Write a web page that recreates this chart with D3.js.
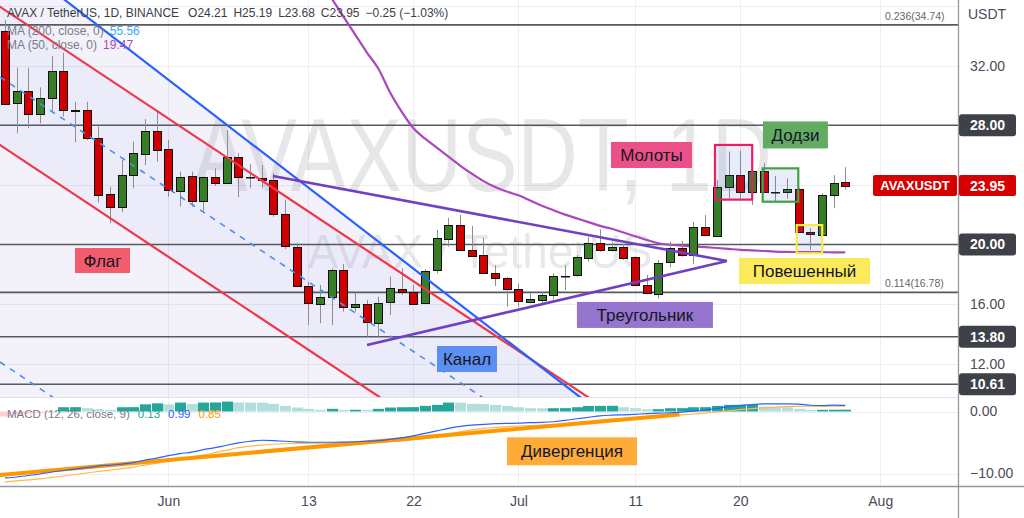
<!DOCTYPE html>
<html><head><meta charset="utf-8">
<script src="https://cdn.jsdelivr.net/npm/d3@7/dist/d3.min.js"></script>
<style>
html,body{margin:0;padding:0;background:#fff;}
svg{display:block;}
text{font-family:"Liberation Sans",Arial,sans-serif;}
</style></head><body>
<svg id="chart" width="1024" height="518"></svg>
<script>
// ---------------- data ----------------
const firstDay = "2021-05-18";
const open = [34.35,29.54,30.32,28.76,29.81,31.65,29.03,29.00,27.17,23.37,22.49,24.66,26.12,27.64,26.39,23.61,24.60,22.94,24.55,24.15,25.89,24.52,24.48,24.33,22.03,19.85,17.21,16.05,16.49,18.29,15.78,15.98,14.77,16.09,17.01,16.83,16.05,18.22,20.40,21.31,19.66,19.27,18.06,17.75,16.99,16.11,16.31,16.63,17.88,17.90,19.14,20.12,19.68,19.85,19.14,17.28,16.72,18.77,19.74,19.29,21.15,20.59,23.88,24.66,23.54,24.93,23.54,23.57,23.74,20.84,20.63,23.32,24.21];
const high = [35.07,31.87,31.87,30.55,32.65,32.87,29.58,29.58,27.91,23.88,25.67,26.90,28.42,29.03,27.01,24.89,24.89,24.55,25.11,27.68,26.12,25.40,25.33,24.78,23.00,20.12,17.50,17.28,18.40,18.69,16.76,16.27,16.49,17.84,18.40,17.28,18.33,20.97,21.78,21.98,21.24,20.45,18.62,17.84,17.39,16.72,16.83,18.06,18.62,19.29,20.52,21.02,20.19,20.03,19.20,17.95,18.96,20.19,20.25,21.51,21.98,24.33,26.23,26.30,26.23,25.45,24.60,24.44,23.80,21.08,23.43,24.66,25.19];
const low = [29.36,27.46,27.80,28.13,28.98,28.58,26.86,27.00,22.83,21.42,22.16,23.77,25.33,25.56,23.21,22.54,22.54,22.20,23.94,24.15,23.17,23.77,23.77,21.86,19.68,17.15,14.59,14.71,14.59,15.49,15.49,13.81,13.81,15.26,16.61,16.00,16.00,18.05,19.86,19.59,19.18,18.01,17.21,15.82,15.82,16.05,15.93,16.31,16.94,17.84,18.84,19.51,19.51,18.96,17.20,16.65,16.38,18.47,19.18,18.69,20.55,20.55,23.10,23.10,22.65,23.50,22.87,23.10,20.80,19.63,20.08,22.43,23.68];
const close = [29.48,30.32,28.76,29.81,31.65,29.03,28.99,27.13,23.37,22.49,24.66,26.12,27.64,26.39,23.61,24.55,22.94,24.55,24.15,25.89,24.55,24.50,24.33,22.03,19.85,17.21,16.05,16.49,18.29,15.78,15.98,14.77,16.09,17.06,16.83,16.05,18.22,20.40,21.31,19.66,19.27,18.06,17.75,16.99,16.16,16.31,16.63,17.88,17.90,19.14,20.12,19.68,19.85,19.14,17.28,16.72,18.77,19.74,19.29,21.15,20.59,23.88,24.66,23.54,24.93,23.54,23.52,23.74,20.86,20.68,23.32,24.10,23.95];
const ma50 = [null,null,null,null,null,null,null,null,null,null,null,null,null,null,null,null,null,null,null,null,null,null,null,null,null,null,null,
  37.6,36.5,35.3,34.1,32.9,31.8,30.2,28.9,27.8,27.1,26.5,25.9,25.3,24.75,24.25,23.85,23.55,23.3,22.95,22.6,22.3,22.0,21.75,21.5,21.25,21.05,20.8,20.55,20.3,20.08,19.98,19.92,19.87,19.82,19.76,19.7,19.64,19.6,19.56,19.52,19.5,19.49,19.48,19.48,19.47,19.47];
const macdLine = [-10.7,-10.56,-10.32,-10.08,-9.76,-9.52,-9.28,-9.04,-8.8,-8.64,-8.48,-8.24,-7.84,-7.52,-7.12,-6.8,-6.56,-6.16,-5.84,-5.44,-5.07,-4.8,-4.64,-4.69,-4.8,-4.91,-4.96,-4.96,-4.96,-4.93,-4.88,-4.8,-4.69,-4.48,-4.24,-3.92,-3.52,-3.12,-2.72,-2.4,-2.19,-2.08,-1.97,-1.92,-1.89,-1.81,-1.76,-1.65,-1.44,-1.17,-0.93,-0.69,-0.59,-0.53,-0.45,-0.35,-0.27,-0.21,-0.11,0.05,0.24,0.51,0.8,0.96,1.12,1.23,1.23,1.23,1.2,1.01,0.96,1.04,0.99];
const signalLine = [-11.36,-11.2,-11.04,-10.88,-10.64,-10.4,-10.16,-9.92,-9.68,-9.44,-9.2,-8.96,-8.64,-8.32,-8.0,-7.68,-7.36,-7.04,-6.64,-6.24,-5.84,-5.6,-5.41,-5.28,-5.2,-5.15,-5.12,-5.1,-5.09,-5.07,-5.06,-5.02,-4.98,-4.88,-4.75,-4.56,-4.32,-4.0,-3.65,-3.28,-2.96,-2.72,-2.56,-2.43,-2.34,-2.26,-2.18,-2.1,-1.98,-1.82,-1.63,-1.44,-1.28,-1.14,-1.01,-0.88,-0.75,-0.64,-0.53,-0.4,-0.26,-0.08,0.11,0.29,0.45,0.59,0.7,0.78,0.83,0.85,0.85,0.85,0.85];
const histogram = [-0.8,-0.55,-0.38,-0.22,-0.06,0.69,0.70,0.53,0.37,0.27,0.69,0.70,1.16,1.32,1.16,1.44,1.23,1.44,1.46,1.6,1.45,1.44,1.42,1.23,0.91,0.64,0.43,0.27,0.43,0.27,0.28,0.27,0.43,0.64,0.69,0.70,0.91,1.07,1.44,1.42,1.23,1.22,1.07,0.91,0.69,0.53,0.52,0.53,0.54,0.69,0.90,0.91,0.92,0.69,0.53,0.37,0.38,0.53,0.54,0.69,0.70,0.91,1.07,1.08,1.09,0.80,0.69,0.68,0.43,0.27,0.28,0.29,0.30];
const priceAxisTicks = [32, 16, 12];
const priceGrid = [36, 32, 28, 24, 20, 16, 12];
const levelLines = [28, 20, 13.80, 10.61];
const fibLevels = [34.74, 16.78];
const fibLabels = ["0.236(34.74)", "0.114(16.78)"];
const macdAxisTicks = [0, -10];
const timeTicks = ["2021-06-01","2021-06-13","2021-06-22","2021-07-01","2021-07-11","2021-07-20","2021-08-01"];
const lastPrice = 23.95;
const headerItems = ["AVAX / TetherUS, 1D, BINANCE","O24.21","H25.19","L23.68","C23.95","\u22120.25 (\u22121.03%)"];
// drawings: [day index, price]
const blueLine = [[5.14,36.41],[49.27,9.76]];
const redUpper = [[-0.43,35.96],[50.99,9.21]];
const redLower = [[-0.43,26.68],[33.85,8.84]];
const dashMid  = [[-0.43,31.24],[42.42,8.95]];
const dashLow  = [[-0.43,12.11],[4.71,9.42]];
const triUpper = [[22.96,24.60],[61.87,18.89]];
const triLower = [[31.02,13.25],[61.87,18.89]];
const divergence = [[-0.43,-10.24],[57.8,-0.48]];
const boxPink   = [[60.84,26.68],[64.03,23.01]];
const boxGreen  = [[64.93,25.11],[67.98,22.87]];
const boxYellow = [[67.84,21.30],[70.03,19.41]];

// ---------------- layout ----------------
const svg = d3.select("#chart");
const paneR = 958, priceB = 397, macdT = 398, macdB = 486;
const parseDay = d3.utcParse("%Y-%m-%d");
const d0 = parseDay(firstDay);
const day = i => new Date(+d0 + i * 864e5);
const n = open.length;
const x = d3.scaleUtc().domain([day(0), day(n - 1)]).range([5, 845.2]);
const xi = i => x(day(i));
const y = d3.scaleLinear().domain([28, 10.61]).range([125.3, 384.3]);
const ym = d3.scaleLinear().domain([0, -10]).range([411.5, 473.5]);

const defs = svg.append("defs");
defs.append("clipPath").attr("id","cp").append("rect").attr("x",0).attr("y",0).attr("width",paneR).attr("height",priceB);
defs.append("clipPath").attr("id","cm").append("rect").attr("x",0).attr("y",macdT).attr("width",paneR).attr("height",macdB-macdT);

svg.append("rect").attr("width",1024).attr("height",518).attr("fill","#fff");

// grid
const grid = svg.append("g");
const tDates = timeTicks.map(parseDay);
grid.selectAll("line.v").data(tDates).join("line")
  .attr("x1",d=>Math.round(x(d))+0.5).attr("x2",d=>Math.round(x(d))+0.5)
  .attr("y1",0).attr("y2",macdB).attr("stroke","#eceef3").attr("stroke-width",1);
grid.selectAll("line.h").data(priceGrid).join("line")
  .attr("x1",0).attr("x2",paneR).attr("y1",d=>Math.round(y(d))+0.5).attr("y2",d=>Math.round(y(d))+0.5)
  .attr("stroke","#eceef3");
grid.selectAll("line.hm").data(macdAxisTicks).join("line")
  .attr("x1",0).attr("x2",paneR).attr("y1",d=>Math.round(ym(d))+0.5).attr("y2",d=>Math.round(ym(d))+0.5)
  .attr("stroke","#eceef3");

// watermark
const wm = svg.append("g").attr("clip-path","url(#cp)");
wm.append("text").attr("x",482).attr("y",191).attr("text-anchor","middle")
  .attr("font-size",104).attr("fill","rgba(110,112,125,0.17)")
  .attr("textLength",580).attr("lengthAdjust","spacingAndGlyphs").text("AVAXUSDT, 1D");
wm.append("text").attr("x",480).attr("y",268).attr("text-anchor","middle")
  .attr("font-size",49).attr("fill","rgba(110,112,125,0.17)")
  .attr("textLength",345).attr("lengthAdjust","spacingAndGlyphs").text("AVAX / TetherUS");

// helpers
const P = d => [xi(d[0]), y(d[1])];
function extend(seg, i0, i1){
  const [a,b] = seg; const k = (b[1]-a[1])/(b[0]-a[0]);
  return [[i0, a[1]+k*(i0-a[0])],[i1, a[1]+k*(i1-a[0])]];
}
const line2 = d3.line().x(d=>xi(d[0])).y(d=>y(d[1]));

const gP = svg.append("g").attr("clip-path","url(#cp)");
// channel fills
const bl = extend(blueLine, -3, 60);
gP.append("path").attr("d", line2([bl[0], bl[1], [-3, bl[1][1]]]) + "Z")
  .attr("fill","#8c82d8").attr("fill-opacity",0.1);
const ru = extend(redUpper, -3, 60), rl = extend(redLower, -3, 60);
gP.append("path").attr("d", line2([ru[0], ru[1], rl[1], rl[0]]) + "Z")
  .attr("fill","#8c82d8").attr("fill-opacity",0.06);

// level lines
gP.selectAll("line.lvl").data(levelLines.concat(fibLevels)).join("line")
  .attr("x1",0).attr("x2",paneR).attr("y1",d=>y(d)).attr("y2",d=>y(d))
  .attr("stroke","#555a62").attr("stroke-width",1.6);
gP.selectAll("text.fib").data(fibLevels).join("text")
  .attr("x",885).attr("y",d=>y(d)-5).attr("font-size",10.5).attr("fill","#666")
  .text((d,i)=>fibLabels[i]);

// MA 50
gP.append("path").datum(ma50.map((v,i)=>[i,v]))
  .attr("d", d3.line().defined(d=>d[1]!=null).curve(d3.curveMonotoneX).x(d=>xi(d[0])).y(d=>y(d[1])))
  .attr("fill","none").attr("stroke","#ab47bc").attr("stroke-width",2.2);

// legends (under candles)
const hdr = svg.append("g").attr("font-size",12).attr("fill","#3a3d45");
let hx = 7;
headerItems.forEach((t,i)=>{
  const el = hdr.append("text").attr("x",hx).attr("y",17).text(t);
  hx += el.node().getComputedTextLength() + (i===0 ? 9 : 6);
});
const lg = svg.append("g").attr("font-size",12);
[["MA (200, close, 0)","55.56","#42a5f5",35],["MA (50, close, 0)","19.47","#ab47bc",49]].forEach(r=>{
  const el = lg.append("text").attr("x",7).attr("y",r[3]).attr("fill","#787b86").text(r[0]);
  lg.append("text").attr("x",7+el.node().getComputedTextLength()+6).attr("y",r[3]).attr("fill",r[2]).text(r[1]);
});

// candles
const candles = d3.range(n).map(i=>({i, o:open[i], h:high[i], l:low[i], c:close[i]}));
const up = "#377d26", dn = "#d10000";
gP.selectAll("line.wick").data(candles).join("line")
  .attr("x1",d=>Math.round(xi(d.i))+0.5).attr("x2",d=>Math.round(xi(d.i))+0.5)
  .attr("y1",d=>y(d.h)).attr("y2",d=>y(d.l)).attr("stroke","#8e8e8e").attr("stroke-width",1);
gP.selectAll("rect.body").data(candles).join("rect")
  .attr("x",d=>Math.round(xi(d.i))-3.5).attr("width",8)
  .attr("y",d=>Math.round(y(Math.max(d.o,d.c)))+0.5)
  .attr("height",d=>Math.max(0.5, Math.round(Math.abs(y(d.o)-y(d.c)))))
  .attr("fill",d=>d.c>=d.o?up:dn).attr("stroke","#111").attr("stroke-width",1);

// drawings
const ray = (seg, col, w, dash) => {
  const e = extend(seg, -3, 60);
  gP.append("path").attr("d", line2(e)).attr("fill","none").attr("stroke",col)
    .attr("stroke-width",w).attr("stroke-dasharray",dash||null);
};
ray(dashMid, "#4a8ff0", 1.6, "6,6");
ray(dashLow, "#4a8ff0", 1.6, "6,6");
ray(redUpper, "#f23645", 2.2);
ray(redLower, "#f23645", 2.2);
ray(blueLine, "#2962ff", 2.2);
[triUpper, triLower].forEach(s=>gP.append("path").attr("d",line2(s)).attr("fill","none")
  .attr("stroke","#6f3fc4").attr("stroke-width",2.6));

const boxes = [[boxPink,"#e91e63"],[boxGreen,"#43a047"],[boxYellow,"#fde93a"]];
boxes.forEach(([b,col])=>{
  const [x1,y1]=P(b[0]), [x2,y2]=P(b[1]);
  gP.append("rect").attr("x",x1).attr("y",y1).attr("width",x2-x1).attr("height",y2-y1)
    .attr("fill","rgba(70,110,210,0.12)").attr("stroke",col).attr("stroke-width",2.2);
});

// MACD pane
const gM = svg.append("g").attr("clip-path","url(#cm)");
gM.selectAll("rect.h").data(histogram).join("rect")
  .attr("x",(d,i)=>Math.round(xi(i))-5).attr("width",11)
  .attr("y",d=>Math.min(ym(d),ym(0))).attr("height",d=>Math.max(1,Math.abs(ym(d)-ym(0))))
  .attr("fill",(d,i)=>{const p=i>0?histogram[i-1]:-Infinity;
     return d>=0 ? (d>=p?"#26a69a":"#b2dfdb") : (d>=p?"#ffcdd2":"#ff5252");});
const lm = d3.line().curve(d3.curveMonotoneX).x((d,i)=>xi(i)).y(d=>ym(d));
gM.append("path").datum(signalLine).attr("d",lm).attr("fill","none").attr("stroke","#ffb74d").attr("stroke-width",1.2);
gM.append("path").datum(divergence).attr("d",d3.line().x(d=>xi(d[0])).y(d=>ym(d[1])))
  .attr("fill","none").attr("stroke","#ff9800").attr("stroke-width",4);
gM.append("path").datum(macdLine).attr("d",lm).attr("fill","none").attr("stroke","#2962ff").attr("stroke-width",1.2);

const ml = svg.append("g").attr("font-size",11.5);
let mx = 7;
[["MACD (12, 26, close, 9)","#787b86"],["0.13","#26a69a"],["0.99","#2962ff"],["0.85","#ff9800"]].forEach(r=>{
  const el = ml.append("text").attr("x",mx).attr("y",418).attr("fill",r[1]).text(r[0]);
  mx += el.node().getComputedTextLength() + 8;
});

// annotation labels
const notes = [
  {t:"Флаг", i:6.0, v:19.76, w:55, h:25, f:"#f25c6c", s:y},
  {t:"Канал", i:37.02, v:13.18, w:60, h:26, f:"#5b8ff2", s:y},
  {t:"Треугольник", i:49.01, v:16.14, w:136, h:26, f:"#9575cd", s:y},
  {t:"Молоты", i:51.93, v:26.88, w:81, h:26, f:"#ec5089", s:y},
  {t:"Додзи", i:64.95, v:28.26, w:65, h:27, f:"#63aa63", s:y},
  {t:"Повешенный", i:62.9, v:19.09, w:131, h:26, f:"#fde95c", s:y},
  {t:"Дивергенция", i:43.02, v:-4.16, w:130, h:28, f:"#ffab3a", s:ym}
];
const ng = svg.append("g");
notes.forEach(nt=>{
  const x0 = xi(nt.i), y0 = nt.s(nt.v);
  ng.append("rect").attr("x",x0).attr("y",y0).attr("width",nt.w).attr("height",nt.h).attr("fill",nt.f);
  ng.append("text").attr("x",x0+nt.w/2).attr("y",y0+nt.h/2+6).attr("text-anchor","middle")
    .attr("font-family","'Open Sans',sans-serif").attr("font-size",17).attr("fill","#131722").text(nt.t);
});

// separators
svg.append("line").attr("x1",0).attr("x2",paneR).attr("y1",397.5).attr("y2",397.5).attr("stroke","#e0e3eb");
svg.append("line").attr("x1",0).attr("x2",1024).attr("y1",macdB+0.5).attr("y2",macdB+0.5).attr("stroke","#9598a1").attr("stroke-width",1.3);
svg.append("line").attr("x1",paneR+0.5).attr("x2",paneR+0.5).attr("y1",0).attr("y2",518).attr("stroke","#9598a1").attr("stroke-width",1.3);

// axes
const axFont = g => g.selectAll("text").attr("font-size",14).attr("fill","#4a4d55").attr("font-family","'Liberation Sans',Arial,sans-serif");
svg.append("g").attr("transform",`translate(${paneR},0)`)
  .call(d3.axisRight(y).tickValues(priceAxisTicks).tickFormat(d3.format(".2f")).tickSize(0).tickPadding(12))
  .call(g=>g.select(".domain").remove()).call(axFont);
svg.append("g").attr("transform",`translate(${paneR},0)`)
  .call(d3.axisRight(ym).tickValues(macdAxisTicks).tickFormat(d3.format(".2f")).tickSize(0).tickPadding(12))
  .call(g=>g.select(".domain").remove()).call(axFont);
svg.append("text").attr("x",968).attr("y",19).attr("font-size",14).attr("fill","#4a4d55").text("USDT");
svg.append("g").attr("transform",`translate(0,${macdB+10})`)
  .call(d3.axisBottom(x).tickValues(tDates).tickSize(0).tickPadding(0)
    .tickFormat(d=>d.getUTCDate()===1 ? d3.utcFormat("%b")(d) : d3.utcFormat("%-d")(d)))
  .call(g=>g.select(".domain").remove()).call(axFont);

// level labels on axis
const lvl = svg.append("g");
levelLines.forEach(v=>{
  lvl.append("rect").attr("x",paneR+1).attr("y",y(v)-11).attr("width",57).attr("height",22).attr("rx",3).attr("fill","#3f4148");
  lvl.append("text").attr("x",970).attr("y",y(v)+5).attr("font-size",14).attr("font-weight","bold").attr("fill","#fff").text(d3.format(".2f")(v));
});
const yl = y(lastPrice);
lvl.append("rect").attr("x",873).attr("y",yl-10.5).attr("width",84).attr("height",21).attr("rx",2).attr("fill","#d50000");
lvl.append("text").attr("x",915).attr("y",yl+4.5).attr("text-anchor","middle").attr("font-size",13).attr("font-weight","bold").attr("fill","#fff").text("AVAXUSDT");
lvl.append("rect").attr("x",paneR+1).attr("y",yl-10.5).attr("width",57).attr("height",21).attr("rx",2).attr("fill","#d50000");
lvl.append("text").attr("x",970).attr("y",yl+5).attr("font-size",14).attr("font-weight","bold").attr("fill","#fff").text(d3.format(".2f")(lastPrice));
</script>
</body></html>
